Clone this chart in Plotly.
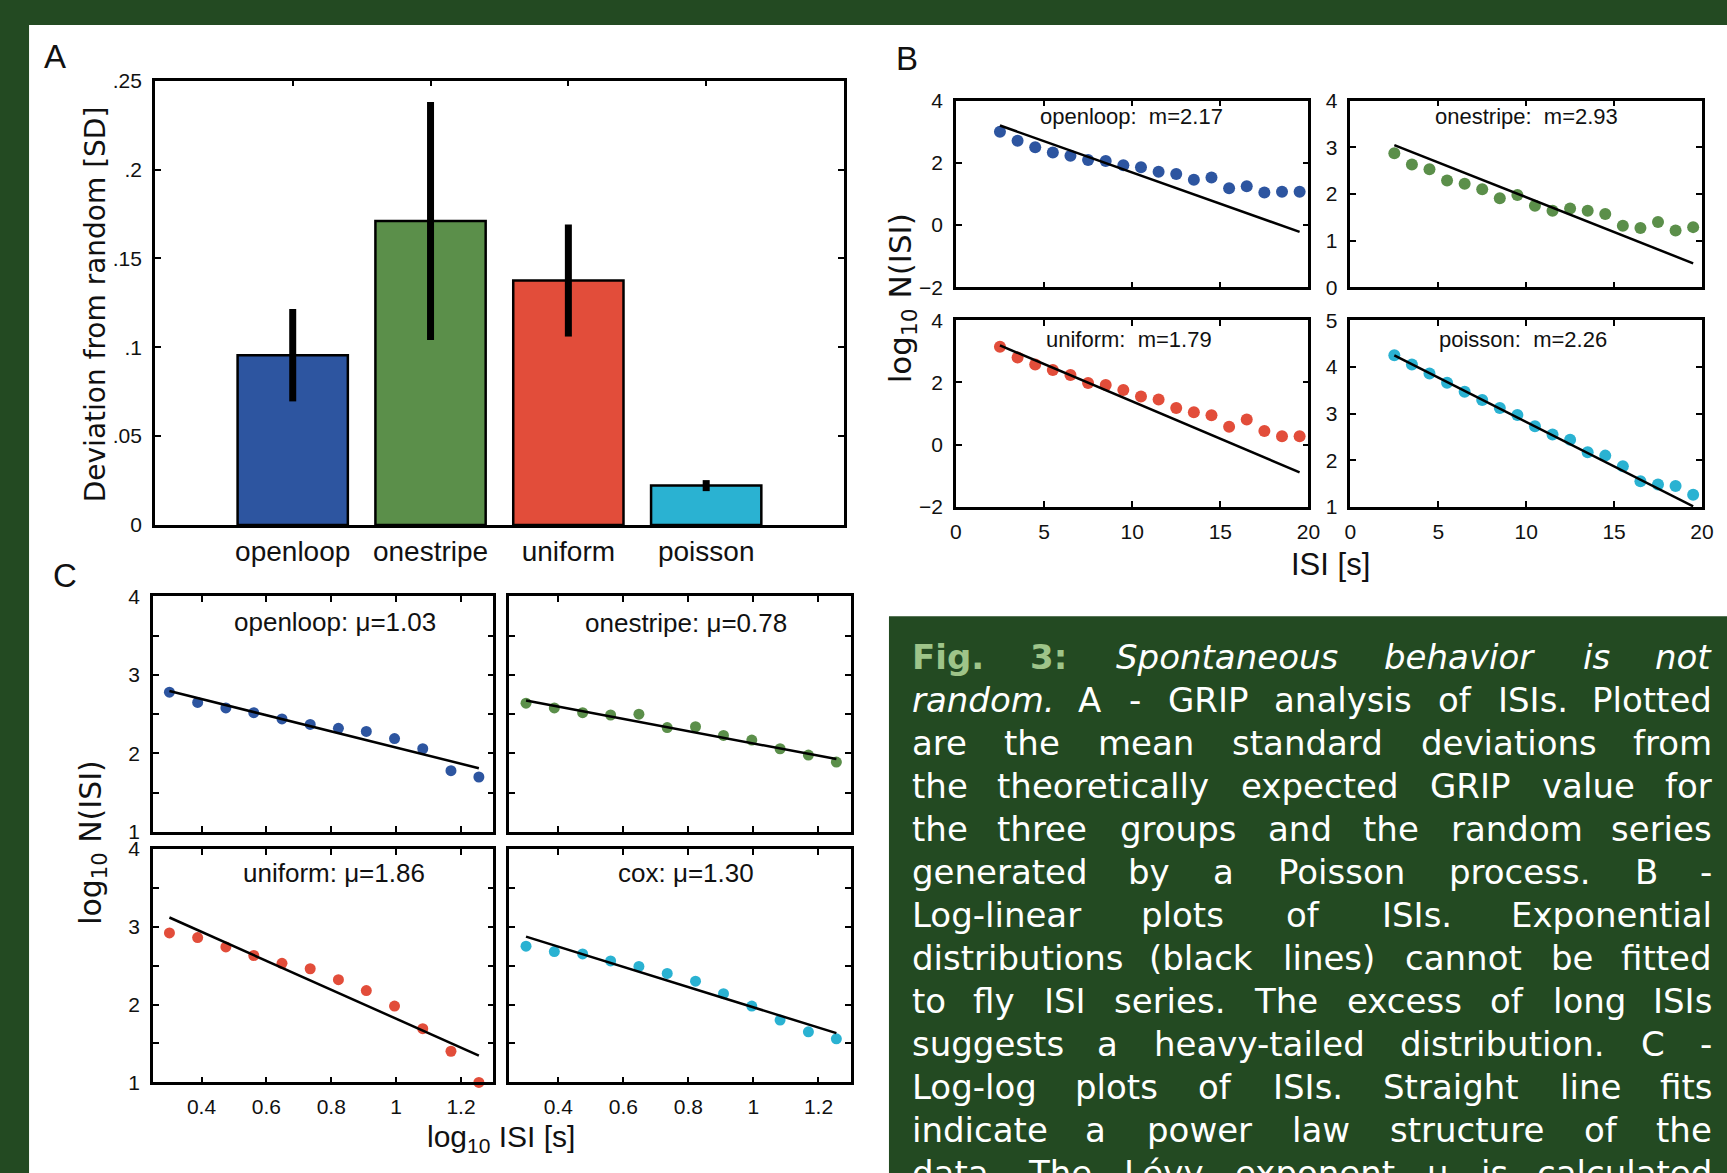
import plotly.graph_objects as go

W, H = 1727, 1173

# ---------------- Panel A: GRIP deviation ----------------
groups = ["openloop", "onestripe", "uniform", "poisson"]
grip_dev = [0.0955, 0.171, 0.1375, 0.0221]
grip_err = [0.026, 0.067, 0.0315, 0.0031]
dev_ticks = [0, 0.05, 0.1, 0.15, 0.2, 0.25]
dev_ticktext = ["0", ".05", ".1", ".15", ".2", ".25"]

# ---------------- Panel B: log-linear ISI histograms ----------------
isi_s = [2.5, 3.5, 4.5, 5.5, 6.5, 7.5, 8.5, 9.5, 10.5, 11.5,
         12.5, 13.5, 14.5, 15.5, 16.5, 17.5, 18.5, 19.5]
b_openloop = [3.00, 2.71, 2.50, 2.33, 2.23, 2.09, 2.06, 1.92, 1.86, 1.71,
              1.64, 1.46, 1.53, 1.18, 1.25, 1.05, 1.07, 1.07]
b_onestripe = [2.87, 2.63, 2.53, 2.29, 2.22, 2.10, 1.91, 1.98, 1.75, 1.64,
               1.69, 1.64, 1.57, 1.32, 1.27, 1.40, 1.22, 1.29]
b_uniform = [3.15, 2.80, 2.58, 2.40, 2.24, 1.98, 1.92, 1.76, 1.55, 1.45,
             1.18, 1.04, 0.95, 0.58, 0.81, 0.44, 0.27, 0.27]
b_poisson = [4.25, 4.05, 3.86, 3.66, 3.47, 3.29, 3.12, 2.97, 2.73, 2.55,
             2.44, 2.17, 2.10, 1.87, 1.55, 1.48, 1.45, 1.26]
b_titles = ["openloop:\u00a0 m=2.17", "onestripe:\u00a0 m=2.93",
            "uniform:\u00a0 m=1.79", "poisson:\u00a0 m=2.26"]
b_fit_intercept = [3.70, 3.42, 3.79, 4.72]
b_fit_slope = [-0.201, -0.149, -0.240, -0.190]
b_yranges = [[-2, 4], [0, 4], [-2, 4], [1, 5]]
b_yticks = [[-2, 0, 2, 4], [0, 1, 2, 3, 4], [-2, 0, 2, 4], [1, 2, 3, 4, 5]]
isi_ticks = [0, 5, 10, 15, 20]

# ---------------- Panel C: log-log ISI histograms ----------------
log_isi = [0.301, 0.388, 0.475, 0.561, 0.648, 0.735,
           0.822, 0.908, 0.995, 1.082, 1.169, 1.255]
c_openloop = [2.78, 2.65, 2.58, 2.52, 2.44, 2.37, 2.32, 2.28, 2.19, 2.06, 1.78, 1.70]
c_onestripe = [2.64, 2.58, 2.52, 2.49, 2.50, 2.33, 2.34, 2.23, 2.17, 2.06, 1.98, 1.89]
c_uniform = [2.92, 2.86, 2.74, 2.63, 2.53, 2.46, 2.32, 2.18, 1.98, 1.69, 1.40, 1.00]
c_cox = [2.75, 2.68, 2.65, 2.56, 2.49, 2.40, 2.30, 2.14, 1.98, 1.80, 1.65, 1.56]
c_names = ["openloop", "onestripe", "uniform", "cox"]
levy_mu = [1.03, 0.78, 1.86, 1.30]
c_fit_intercept = [3.105, 2.908, 3.678, 3.264]
c_xticks = [0.4, 0.6, 0.8, 1.0, 1.2]
c_xticktext = ["0.4", "0.6", "0.8", "1", "1.2"]
c_yticks = [1, 2, 3, 4]

series_colors = ["#2d55a0", "#5b8f4a", "#e24d3a", "#2ab2d2"]
BG_GREEN = "#234a22"
CAPTION_GREEN = "#9ec489"
PLOT_FONT = "Liberation Sans, Arial, Helvetica, sans-serif"
WIDE_FONT = "DejaVu Sans, Verdana, sans-serif"
TICK_SIZE = 21

# The page is shown with an 8px body inset and then fitted back into the window,
# so positions below are given in on-screen pixels and mapped into the figure.
INSET = 8
SX = W / (W + 2 * INSET)
SY = H / (H + 2 * INSET)


def fig_x(x):
    return x / SX - INSET


def fig_y(y):
    return y / SY - INSET


def px(x):
    return fig_x(x) / W


def py(y):
    return 1 - fig_y(y) / H


def dom_x(a, b):
    return [px(a), px(b)]


def dom_y(a, b):
    return [py(b), py(a)]


def axis_style(**kw):
    d = dict(showline=True, linecolor="black", linewidth=2.5, mirror="ticks",
             ticks="inside", ticklen=6, tickwidth=2, tickcolor="black",
             showgrid=False, zeroline=False, fixedrange=True,
             tickfont=dict(family=PLOT_FONT, size=TICK_SIZE, color="#111"))
    d.update(kw)
    return d


fig = go.Figure()
layout = dict(width=W, height=H, margin=dict(l=0, r=0, t=0, b=0),
              paper_bgcolor=BG_GREEN, plot_bgcolor="white", showlegend=False)

# ---- Panel A
fig.add_trace(go.Bar(
    x=[1, 2, 3, 4], y=grip_dev, width=0.8,
    marker=dict(color=series_colors, line=dict(color="black", width=2.5)),
    error_y=dict(type="data", array=grip_err, color="black", thickness=7, width=0),
    xaxis="x", yaxis="y"))
layout["xaxis"] = axis_style(domain=dom_x(157, 847), range=[0, 5], tickvals=[1, 2, 3, 4],
                             ticktext=groups, layer="below traces", anchor="y",
                             tickfont=dict(family=PLOT_FONT, size=28, color="#111"),
                             ticklabelstandoff=0)
layout["yaxis"] = axis_style(domain=dom_y(77, 524), range=[0, 0.25], tickvals=dev_ticks,
                             ticktext=dev_ticktext, anchor="x", ticklabelstandoff=6)

# ---- Panel B
b_series = [b_openloop, b_onestripe, b_uniform, b_poisson]
b_boxes = [(959, 1312, 97, 285), (1354, 1706, 97, 285),
           (959, 1312, 318, 506), (1354, 1706, 318, 506)]
for i, (vals, box) in enumerate(zip(b_series, b_boxes)):
    n = i + 2
    xa, ya = f"x{n}", f"y{n}"
    fig.add_trace(go.Scatter(x=isi_s, y=vals, mode="markers", cliponaxis=False,
                             marker=dict(color=series_colors[i], size=12, line=dict(width=0)),
                             xaxis=xa, yaxis=ya))
    fx = [isi_s[0], isi_s[-1]]
    fy = [b_fit_intercept[i] + b_fit_slope[i] * v for v in fx]
    fig.add_trace(go.Scatter(x=fx, y=fy, mode="lines", line=dict(color="black", width=2.5),
                             xaxis=xa, yaxis=ya))
    x0, x1, y0, y1 = box
    layout[f"xaxis{n}"] = axis_style(domain=dom_x(x0, x1), range=[0, 20], tickvals=isi_ticks,
                                     showticklabels=(i >= 2), anchor=ya, ticklabelstandoff=4)
    layout[f"yaxis{n}"] = axis_style(domain=dom_y(y0, y1), range=b_yranges[i],
                                     tickvals=b_yticks[i], anchor=xa, ticklabelstandoff=6)

# ---- Panel C
c_series = [c_openloop, c_onestripe, c_uniform, c_cox]
c_boxes = [(155, 496, 596, 833), (512, 854, 596, 833),
           (155, 496, 850, 1085), (512, 854, 850, 1085)]
for i, (vals, box) in enumerate(zip(c_series, c_boxes)):
    n = i + 6
    xa, ya = f"x{n}", f"y{n}"
    fig.add_trace(go.Scatter(x=log_isi, y=vals, mode="markers", cliponaxis=False,
                             marker=dict(color=series_colors[i], size=11, line=dict(width=0)),
                             xaxis=xa, yaxis=ya))
    fx = [log_isi[0], log_isi[-1]]
    fy = [c_fit_intercept[i] - levy_mu[i] * v for v in fx]
    fig.add_trace(go.Scatter(x=fx, y=fy, mode="lines", line=dict(color="black", width=2.5),
                             xaxis=xa, yaxis=ya))
    x0, x1, y0, y1 = box
    layout[f"xaxis{n}"] = axis_style(domain=dom_x(x0, x1), range=[0.25, 1.3], tickvals=c_xticks,
                                     ticktext=c_xticktext, showticklabels=(i >= 2), anchor=ya,
                                     ticklabelstandoff=4)
    layout[f"yaxis{n}"] = axis_style(domain=dom_y(y0, y1), range=[1, 4], tickvals=c_yticks,
                                     showticklabels=(i % 2 == 0), anchor=xa, ticklabelstandoff=6,
                                     minor=dict(dtick=0.5, ticks="inside", ticklen=6,
                                                tickwidth=2, tickcolor="black"))

# ---- background panels
layout["shapes"] = [
    dict(type="rect", xref="paper", yref="paper", x0=px(31), x1=1.02, y0=-0.02, y1=py(21),
         fillcolor="white", line=dict(width=0), layer="below"),
    dict(type="rect", xref="paper", yref="paper", x0=px(892), x1=1.02, y0=-0.02, y1=py(616),
         fillcolor=BG_GREEN, line=dict(width=0), layer="below"),
]

ann = []


def label(text, x, y, size, family=PLOT_FONT, color="#111", angle=0, xanchor="center",
          yanchor="middle"):
    ann.append(dict(text=text, x=px(x), y=py(y), xref="paper", yref="paper", showarrow=False,
                    xanchor=xanchor, yanchor=yanchor, textangle=angle,
                    font=dict(family=family, size=size, color=color)))


# panel letters
label("A", 57, 53, 33)
label("B", 910, 55, 33)
label("C", 67, 575, 33)

# axis titles
label("Deviation from random [SD]", 97, 302, 28, family=WIDE_FONT, angle=-90)
label("log<sub>10</sub> N(ISI)", 905, 296, 31, family=WIDE_FONT, angle=-90)
label("ISI [s]", 1334, 564, 31)
label("log<sub>10</sub> N(ISI)", 95, 843, 30, family=WIDE_FONT, angle=-90)
label("log<sub>10</sub> ISI [s]", 504, 1141, 30)

# subplot titles
b_title_pos = [(1135, 113), (1530, 113), (1132, 337), (1527, 337)]
for t, (x, y) in zip(b_titles, b_title_pos):
    label(t, x, y, 22)
c_title_pos = [(337, 622), (689, 623), (336, 874), (689, 874)]
for name, mu, (x, y) in zip(c_names, levy_mu, c_title_pos):
    label(f"{name}: \u03bc={mu:.2f}", x, y, 26)

# ---- justified caption in the green box
caption_lines = [
    "#Fig. #3: *Spontaneous *behavior *is *not",
    "*random. A - GRIP analysis of ISIs. Plotted",
    "are the mean standard deviations from",
    "the theoretically expected GRIP value for",
    "the three groups and the random series",
    "generated by a Poisson process. B -",
    "Log-linear plots of ISIs. Exponential",
    "distributions (black lines) cannot be fitted",
    "to fly ISI series. The excess of long ISIs",
    "suggests a heavy-tailed distribution. C -",
    "Log-log plots of ISIs. Straight line fits",
    "indicate a power law structure of the",
    "data. The L\u00e9vy exponent \u03bc is calculated",
]

# approximate DejaVu Sans advance widths (em) used to spread words across the line
REG = {" ": .318, "(": .390, ")": .390, ",": .318, "-": .361, ".": .318, ":": .337,
       "A": .684, "B": .686, "C": .698, "D": .770, "E": .632, "F": .575, "G": .775, "H": .752,
       "I": .295, "J": .295, "K": .656, "L": .557, "M": .863, "N": .748, "O": .787, "P": .603,
       "Q": .787, "R": .695, "S": .635, "T": .611, "U": .732, "V": .684, "W": .989, "X": .685,
       "Y": .611, "Z": .685,
       "a": .613, "b": .635, "c": .550, "d": .635, "e": .615, "f": .352, "g": .635, "h": .634,
       "i": .278, "j": .278, "k": .579, "l": .278, "m": .974, "n": .634, "o": .612, "p": .635,
       "q": .635, "r": .411, "s": .521, "t": .392, "u": .634, "v": .592, "w": .818, "x": .592,
       "y": .592, "z": .525, "\u00e9": .615, "\u03bc": .636}
BOLD = {"F": .683, "i": .343, "g": .716, ".": .380, "3": .696, ":": .400}

CAP_SIZE = 34
CAP_LEFT, CAP_RIGHT = fig_x(913), fig_x(1718)   # figure pixels
CAP_TOP, CAP_STEP = 657, 43.3                    # on-screen pixels


def word_width(word, bold):
    tot = 0.0
    for c in word:
        if bold and c in BOLD:
            tot += BOLD[c]
        elif c.isdigit():
            tot += .636
        else:
            tot += REG.get(c, .6)
    return tot * CAP_SIZE


for li, line in enumerate(caption_lines):
    yy = py(CAP_TOP + li * CAP_STEP)
    words = []
    for tok in line.split(" "):
        if tok.startswith("#"):
            words.append((tok[1:], "b"))
        elif tok.startswith("*"):
            words.append((tok[1:], "i"))
        else:
            words.append((tok, "n"))
    widths = [word_width(w, s == "b") for w, s in words]
    gap = (CAP_RIGHT - CAP_LEFT - sum(widths)) / (len(words) - 1)
    xcur = CAP_LEFT
    for k, ((w, s), ww) in enumerate(zip(words, widths)):
        if s == "b":
            txt, col = f"<b>{w}</b>", CAPTION_GREEN
        elif s == "i":
            txt, col = f"<i>{w}</i>", "white"
        else:
            txt, col = w, "white"
        if k == 0:
            xa, xpos = "left", CAP_LEFT
        elif k == len(words) - 1:
            xa, xpos = "right", CAP_RIGHT
        else:
            xa, xpos = "center", xcur + ww / 2
        ann.append(dict(text=txt, x=xpos / W, y=yy, xref="paper", yref="paper",
                        showarrow=False, xanchor=xa, yanchor="middle",
                        font=dict(family=WIDE_FONT, size=CAP_SIZE, color=col)))
        xcur += ww + gap

layout["annotations"] = ann
fig.update_layout(**layout)

page_js = ("document.body.style.margin='0px';"
           "document.body.style.background='" + BG_GREEN + "';"
           "document.documentElement.style.overflow='hidden';"
           "document.body.style.overflow='hidden';")
fig.write_html("out.html", post_script=page_js)
